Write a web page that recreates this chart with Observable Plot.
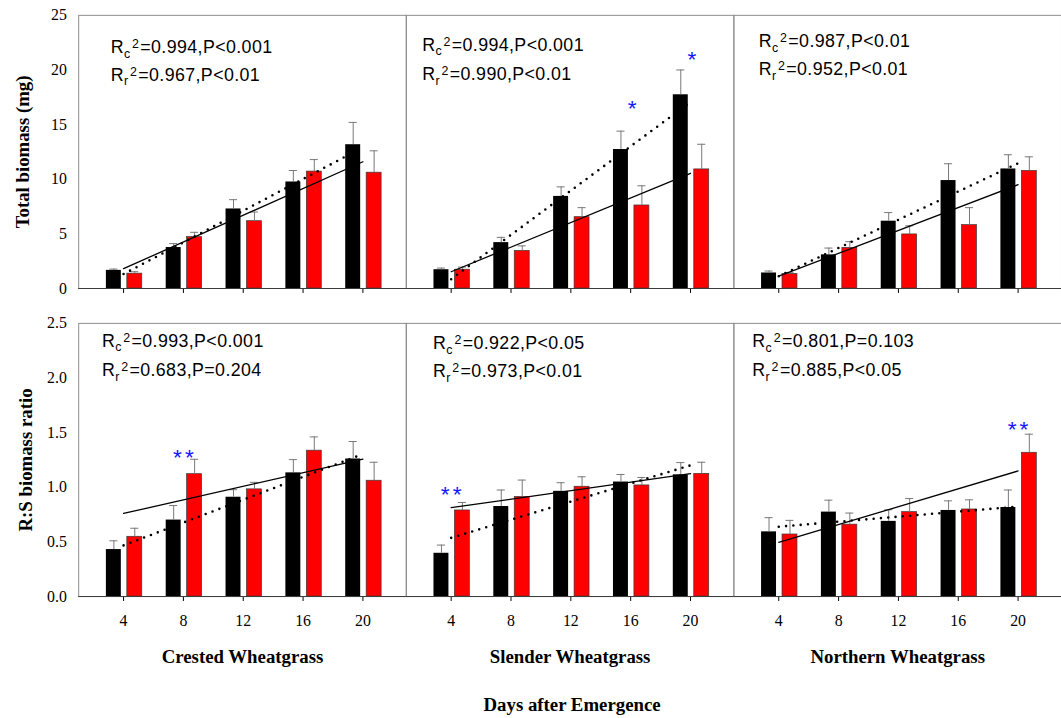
<!DOCTYPE html>
<html>
<head>
<meta charset="utf-8">
<script src="https://cdn.jsdelivr.net/npm/d3@7"></script>
<script src="https://cdn.jsdelivr.net/npm/@observablehq/plot@0.6"></script>
<style>
  html, body { margin: 0; padding: 0; background: #fff; }
  #chart { position: relative; width: 1061px; height: 718px; overflow: hidden; background: #fff; }
  #chart > svg { position: absolute; left: 0; }
</style>
</head>
<body>
<div id="chart"></div>
<script>
// ---------- data ----------
const species = ["Crested Wheatgrass", "Slender Wheatgrass", "Northern Wheatgrass"];
const days = [4, 8, 12, 16, 20];

// Total biomass (mg): control (black) and treatment (red), means and SE
const biomassCtrl   = [[1.66, 3.75, 7.28, 9.75, 13.16], [1.72, 4.20, 8.43, 12.72, 17.73], [1.42, 3.08, 6.16, 9.88, 10.94]];
const biomassCtrlSE = [[0.12, 0.36, 0.85, 1.05, 2.04], [0.15, 0.48, 0.87, 1.68, 2.27], [0.18, 0.62, 0.79, 1.54, 1.30]];
const biomassTrt    = [[1.36, 4.71, 6.16, 10.70, 10.60], [1.72, 3.44, 6.53, 7.60, 10.90], [1.33, 3.72, 4.95, 5.80, 10.76]];
const biomassTrtSE  = [[0.18, 0.43, 0.84, 1.10, 2.00], [0.24, 0.46, 0.87, 1.80, 2.30], [0.12, 0.57, 0.79, 1.60, 1.29]];

// R:S biomass ratio
const ratioCtrl   = [[0.430, 0.700, 0.909, 1.132, 1.259], [0.396, 0.824, 0.963, 1.048, 1.114], [0.592, 0.773, 0.688, 0.788, 0.815]];
const ratioCtrlSE = [[0.080, 0.133, 0.069, 0.121, 0.160], [0.075, 0.151, 0.079, 0.069, 0.112], [0.130, 0.109, 0.106, 0.088, 0.160]];
const ratioTrt    = [[0.547, 1.120, 0.981, 1.335, 1.060], [0.788, 0.912, 1.005, 1.017, 1.123], [0.568, 0.658, 0.773, 0.797, 1.316]];
const ratioTrtSE  = [[0.078, 0.136, 0.064, 0.126, 0.169], [0.073, 0.154, 0.091, 0.073, 0.106], [0.129, 0.106, 0.124, 0.088, 0.170]];

// regression statistics text (R|sub|sup|rest)
const statsBiomass = [
  ["R|c|2|=0.994,P<0.001", "R|r|2|=0.967,P<0.01"],
  ["R|c|2|=0.994,P<0.001", "R|r|2|=0.990,P<0.01"],
  ["R|c|2|=0.987,P<0.01",  "R|r|2|=0.952,P<0.01"]
];
const statsRatio = [
  ["R|c|2|=0.993,P<0.001", "R|r|2|=0.683,P=0.204"],
  ["R|c|2|=0.922,P<0.05",  "R|r|2|=0.973,P<0.01"],
  ["R|c|2|=0.801,P=0.103", "R|r|2|=0.885,P<0.05"]
];

// significance markers: species index, day, level of the marker, text
const starsBiomass = [[1, 16, 16.94, "*"], [1, 20, 21.38, "*"]];
const starsRatio   = [[0, 8, 1.32, "**"], [1, 4, 0.975, "**"], [2, 20, 1.57, "**"]];

const biomassTicks = [0, 5, 10, 15, 20, 25];
const ratioTicks = [0, 0.5, 1.0, 1.5, 2.0, 2.5];
const yTitles = ["Total biomass (mg)", "R:S biomass ratio"];
const xTitle = "Days after Emergence";

(function () {
// ---------- helpers ----------
function tidy(ctrl, ctrlSE, trt, trtSE) {
  const rows = [];
  species.forEach((sp, i) => days.forEach((d, j) => {
    rows.push({species: sp, day: d, series: "ctrl", value: ctrl[i][j], se: ctrlSE[i][j]});
    rows.push({species: sp, day: d, series: "trt", value: trt[i][j], se: trtSE[i][j]});
  }));
  return rows;
}

const OFF = {ctrl: [-1.15, -0.15], trt: [0.25, 1.25]};
const center = d => d.day + (OFF[d.series][0] + OFF[d.series][1]) / 2;

const serif = "'Liberation Serif', 'Times New Roman', Times, serif";
const sans = "'Liberation Sans', Arial, Helvetica, sans-serif";

function makeRow(cfg) {
  const rows = cfg.rows;
  const ctrl = rows.filter(d => d.series === "ctrl");
  const trt = rows.filter(d => d.series === "trt");
  const statRows = [];
  cfg.stats.forEach((pair, i) => pair.forEach((label, k) => {
    const p = cfg.statPos[i];
    statRows.push({species: species[i], x: p[0], y: p[1 + k], label});
  }));
  const starRows = cfg.stars.map(([i, day, y, label]) => ({species: species[i], day, y, label}));

  const marks = [
    Plot.frame({stroke: "#8c8c8c", strokeWidth: 1}),
    Plot.rect(ctrl, {fx: "species", x1: d => d.day + OFF.ctrl[0], x2: d => d.day + OFF.ctrl[1], y1: () => 0, y2: "value", fill: "#000000"}),
    Plot.rect(trt, {fx: "species", x1: d => d.day + OFF.trt[0], x2: d => d.day + OFF.trt[1], y1: () => 0, y2: "value", fill: "#ff0000", stroke: "#3a3a3a", strokeWidth: 0.7}),
    Plot.ruleX(rows, {fx: "species", x: center, y1: "value", y2: d => d.value + d.se, stroke: "#777", strokeWidth: 1}),
    Plot.ruleY(rows, {fx: "species", y: d => d.value + d.se, x1: d => center(d) - 0.27, x2: d => center(d) + 0.27, stroke: "#777", strokeWidth: 1}),
    Plot.linearRegressionY(ctrl, {fx: "species", x: "day", y: "value", ci: 0, stroke: "#000", strokeWidth: 2.6, strokeDasharray: "0,7.4", strokeLinecap: "round"}),
    Plot.linearRegressionY(trt, {fx: "species", x: "day", y: "value", ci: 0, stroke: "#000", strokeWidth: 1.3}),
    Plot.ruleY([0], {stroke: "#3a3a3a", strokeWidth: 1}),
    Plot.text(statRows, {fx: "species", x: "x", y: "y", text: "label", textAnchor: "start", lineAnchor: "bottom", fontFamily: sans, fontSize: 18, fill: "#000"}),
    Plot.text(starRows, {fx: "species", x: "day", y: "y", text: "label", textAnchor: "middle", lineAnchor: "middle", dy: 5, dx: 1.5, fontFamily: sans, fontSize: 23, fill: "#1414ff"}),
    Plot.text([species[0]], {fx: d => d, text: () => cfg.yTitle, frameAnchor: "left", textAnchor: "middle", rotate: -90, lineAnchor: "bottom", dx: cfg.titleDx, fontFamily: serif, fontWeight: "bold", fontSize: 19, fill: "#000"})
  ];
  if (cfg.bottom) {
    marks.push(
      Plot.text(species, {fx: d => d, text: d => d, frameAnchor: "bottom", lineAnchor: "bottom", dy: 67, fontFamily: serif, fontWeight: "bold", fontSize: 19, fill: "#000"}),
      Plot.text([species[1]], {fx: d => d, text: () => xTitle, frameAnchor: "bottom", lineAnchor: "bottom", dy: 116, dx: 2, fontFamily: serif, fontWeight: "bold", fontSize: 19, fill: "#000"})
    );
  }

  const svg = Plot.plot({
    width: 1072,
    height: cfg.height,
    marginTop: cfg.marginTop,
    marginBottom: cfg.marginBottom,
    marginLeft: 79,
    marginRight: 0,
    style: {background: "transparent", fontFamily: serif, fontSize: "16px", color: "#000", overflow: "visible"},
    fx: {domain: species, padding: 0, axis: null, label: null},
    x: {domain: [1, 22.9], ticks: days, tickSize: 5, tickPadding: 13, tickFormat: cfg.bottom ? (d => String(d)) : (() => ""), label: null},
    y: {domain: cfg.yDomain, ticks: cfg.yTicks, tickFormat: cfg.yFormat, tickSize: 0, tickPadding: 12, label: null},
    marks
  });

  // rich text for regression statistics: subscript + superscript; spacing for markers
  d3.select(svg).selectAll("text").each(function () {
    const t = this.textContent;
    if (t === "**") { d3.select(this).style("letter-spacing", "3px"); return; }
    if (!t.includes("|")) return;
    const [a, sub, sup, rest] = t.split("|");
    const s = d3.select(this);
    s.text(null).style("letter-spacing", "0.4px");
    s.append("tspan").text(a);
    s.append("tspan").attr("font-size", 12.5).attr("dy", 4.5).text(sub);
    s.append("tspan").attr("font-size", 12.5).attr("dx", 1.5).attr("dy", -9.5).text(sup);
    s.append("tspan").attr("dx", 1).attr("dy", 5).text(rest);
  });
  return svg;
}

const chart = document.getElementById("chart");

const topRow = makeRow({
  rows: tidy(biomassCtrl, biomassCtrlSE, biomassTrt, biomassTrtSE),
  yDomain: [0, 25], yTicks: biomassTicks, yFormat: d => String(d),
  height: 322, marginTop: 15, marginBottom: 31,
  yTitle: yTitles[0], titleDx: -50,
  stats: statsBiomass,
  statPos: [[3.14, 21.53, 19.02], [2.06, 21.77, 19.05], [2.66, 22.07, 19.5]],
  stars: starsBiomass,
  bottom: false
});
topRow.style.top = "0px";
chart.appendChild(topRow);

const bottomRow = makeRow({
  rows: tidy(ratioCtrl, ratioCtrlSE, ratioTrt, ratioTrtSE),
  yDomain: [0, 2.5], yTicks: ratioTicks, yFormat: d3.format(".1f"),
  height: 406, marginTop: 11, marginBottom: 119,
  yTitle: yTitles[1], titleDx: -47,
  stats: statsRatio,
  statPos: [[2.55, 2.288, 2.016], [2.79, 2.264, 2.007], [2.235, 2.283, 2.016]],
  stars: starsRatio,
  bottom: true
});
bottomRow.style.top = "312px";
chart.appendChild(bottomRow);
})();
</script>
</body>
</html>
